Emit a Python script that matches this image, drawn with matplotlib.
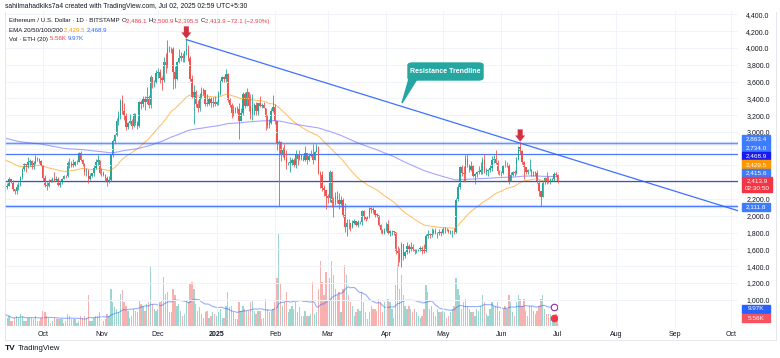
import numpy as np
import pandas as pd
import matplotlib
matplotlib.use("Agg")
import matplotlib.pyplot as plt
import matplotlib.dates as mdates
from matplotlib.patches import Rectangle, FancyBboxPatch, Polygon
from matplotlib.lines import Line2D

plt.rcParams['font.family'] = ['Liberation Sans', 'DejaVu Sans']

W, H = 780, 358

# ETH/USD daily, Bitstamp, from 2024-09-11 to 2025-07-01
first_day = '2024-09-11'
first_open = 2387

closes = [
    2341, 2361, 2437, 2418, 2316, 2296, 2343, 2369, 2463, 2561, 2612, 2582, 2647, 2653, 2578, 2632, 2695, 2677, 2658, 2603,
    2447, 2364, 2350, 2415, 2414, 2440, 2423, 2440, 2369, 2386, 2438, 2475, 2469, 2629, 2607, 2610, 2605, 2640, 2645, 2747,
    2666, 2621, 2525, 2535, 2440, 2480, 2507, 2569, 2638, 2661, 2515,
    2510, 2490, 2455, 2400, 2425, 2720, 2895, 2960, 3125, 3185, 3370, 3245, 3185, 3060, 3105, 3130, 3070, 3210, 3110, 3070,
    3355, 3330, 3395, 3360, 3415, 3325, 3655, 3580, 3590, 3705,
    3715, 3645, 3615, 3835, 3785, 4000, 3995, 4005, 3710, 3630, 3830, 3880, 3905, 3875, 3960, 3985, 3875, 3625, 3420, 3480,
    3330, 3280, 3420, 3490, 3495, 3335, 3330, 3395, 3350, 3355, 3335,
    3355, 3450, 3605, 3655, 3635, 3685, 3380, 3325, 3220, 3265, 3280, 3270, 3135, 3225, 3450, 3310, 3470, 3305, 3215, 3285,
    3325, 3245, 3340, 3310, 3320, 3285, 3180, 3080, 3110, 3250, 3300,
    3125, 2870, 2880, 2735, 2785, 2685, 2625, 2630, 2630, 2660, 2600, 2740, 2675, 2725, 2695, 2665, 2745, 2670, 2715, 2740,
    2665, 2765, 2820, 2515, 2490, 2335, 2310, 2240,
    2215, 2520, 2150, 2170, 2240, 2200, 2140, 2200, 2015, 1865, 1920, 1910, 1865, 1910, 1935, 1885, 1925, 1930, 2055, 1985,
    1965, 1985, 2085, 2080, 2065, 2010, 2005, 1895, 1830, 1800, 1825,
    1905, 1795, 1815, 1815, 1805, 1580, 1555, 1475, 1670, 1520, 1570, 1645, 1595, 1625, 1590, 1575, 1585, 1590, 1615, 1585,
    1580, 1755, 1795, 1770, 1785, 1820, 1795, 1800, 1800, 1795,
    1840, 1840, 1835, 1810, 1815, 1815, 1810, 2205, 2345, 2585, 2515, 2500, 2680, 2610, 2545, 2595, 2480, 2500, 2525, 2525,
    2550, 2665, 2525, 2530, 2550, 2565, 2660, 2680, 2630, 2530, 2530,
    2515, 2605, 2590, 2605, 2415, 2485, 2525, 2510, 2680, 2815, 2770, 2645, 2580, 2525, 2545, 2545, 2510, 2525, 2515, 2410,
    2295, 2230, 2410, 2445, 2420, 2415, 2425, 2435, 2500, 2486.1,
    2413.9,
]

highs = [
    2390, 2390, 2460, 2440, 2430, 2320, 2380, 2400, 2480, 2570, 2630, 2620, 2700, 2675, 2670, 2650, 2725, 2700, 2690, 2670,
    2610, 2485, 2405, 2440, 2440, 2460, 2520, 2470, 2465, 2420, 2455, 2485, 2490, 2650, 2690, 2650, 2680, 2650, 2660, 2760,
    2770, 2680, 2630, 2570, 2560, 2510, 2515, 2600, 2680, 2720, 2660,
    2570, 2530, 2500, 2480, 2480, 2740, 2910, 2980, 3160, 3250, 3390, 3440, 3340, 3230, 3120, 3210, 3150, 3230, 3220, 3130,
    3370, 3380, 3430, 3430, 3540, 3440, 3680, 3640, 3620, 3740,
    3760, 3750, 3670, 3890, 3940, 4090, 4020, 4010, 4010, 3780, 3840, 3990, 3950, 3935, 3970, 4108, 4040, 3910, 3680, 3560,
    3500, 3380, 3460, 3530, 3520, 3500, 3450, 3420, 3420, 3420, 3430,
    3370, 3490, 3620, 3670, 3670, 3745, 3700, 3410, 3350, 3320, 3300, 3310, 3340, 3280, 3470, 3480, 3520, 3460, 3450, 3450,
    3340, 3360, 3350, 3430, 3350, 3360, 3290, 3200, 3150, 3280, 3440,
    3330, 3130, 2900, 2890, 2825, 2860, 2790, 2640, 2700, 2690, 2690, 2790, 2730, 2780, 2740, 2720, 2830, 2750, 2750, 2780,
    2850, 2770, 2860, 2830, 2530, 2530, 2370, 2310,
    2260, 2550, 2530, 2220, 2280, 2300, 2270, 2240, 2210, 2150, 1960, 1960, 1920, 1950, 1960, 1940, 1950, 1940, 2070, 2070,
    1990, 2000, 2110, 2100, 2100, 2070, 2030, 2010, 1900, 1840, 1860,
    1925, 1950, 1830, 1830, 1820, 1810, 1640, 1620, 1690, 1670, 1580, 1690, 1660, 1690, 1660, 1610, 1610, 1600, 1640, 1640,
    1660, 1780, 1830, 1800, 1860, 1840, 1850, 1810, 1840, 1820,
    1870, 1870, 1850, 1840, 1830, 1830, 1860, 2210, 2380, 2590, 2600, 2590, 2730, 2740, 2620, 2650, 2600, 2510, 2540, 2590,
    2640, 2700, 2740, 2570, 2560, 2610, 2710, 2730, 2790, 2660, 2550,
    2540, 2610, 2660, 2640, 2620, 2520, 2530, 2550, 2700, 2830, 2880, 2790, 2650, 2580, 2560, 2680, 2560, 2540, 2540, 2550,
    2430, 2300, 2420, 2460, 2520, 2480, 2450, 2450, 2520, 2520,
    2500.9,
]

lows = [
    2280, 2320, 2350, 2390, 2300, 2260, 2260, 2310, 2360, 2440, 2530, 2520, 2570, 2590, 2560, 2560, 2620, 2650, 2630, 2590,
    2420, 2340, 2310, 2345, 2400, 2405, 2410, 2410, 2355, 2340, 2380, 2435, 2455, 2460, 2570, 2580, 2580, 2590, 2620, 2640,
    2650, 2590, 2490, 2470, 2390, 2430, 2460, 2470, 2560, 2610, 2500,
    2480, 2470, 2400, 2360, 2390, 2420, 2700, 2870, 2950, 3080, 3150, 3210, 3140, 3020, 3030, 3090, 3040, 3060, 3080, 3030,
    3060, 3270, 3300, 3260, 3330, 3280, 3290, 3520, 3540, 3580,
    3640, 3580, 3500, 3600, 3700, 3760, 3950, 3940, 3510, 3520, 3620, 3820, 3840, 3830, 3830, 3920, 3850, 3610, 3400, 3100,
    3300, 3240, 3250, 3400, 3440, 3310, 3310, 3320, 3300, 3300, 3310,
    3320, 3320, 3440, 3590, 3600, 3600, 3360, 3300, 3170, 3190, 3220, 3230, 2920, 3170, 3200, 3280, 3310, 3250, 3150, 3140,
    3200, 3200, 3200, 3300, 3280, 3280, 3020, 3050, 3050, 3100, 3240,
    3100, 2780, 2120, 2650, 2700, 2660, 2560, 2600, 2520, 2600, 2580, 2570, 2610, 2670, 2670, 2650, 2650, 2620, 2650, 2700,
    2620, 2660, 2770, 2500, 2330, 2290, 2240, 2080,
    2150, 2170, 2110, 1990, 2130, 2150, 2080, 2130, 1990, 1810, 1760, 1840, 1820, 1860, 1900, 1880, 1870, 1900, 1890, 1950,
    1940, 1960, 1970, 2030, 2030, 1990, 1990, 1880, 1790, 1780, 1780,
    1820, 1780, 1760, 1770, 1770, 1540, 1400, 1450, 1385, 1470, 1500, 1540, 1560, 1580, 1580, 1550, 1560, 1580, 1580, 1540,
    1560, 1570, 1740, 1730, 1750, 1780, 1780, 1740, 1770, 1760,
    1780, 1800, 1820, 1800, 1780, 1750, 1780, 1800, 2180, 2320, 2480, 2410, 2400, 2580, 2520, 2540, 2460, 2380, 2460, 2500,
    2500, 2500, 2510, 2490, 2480, 2520, 2540, 2630, 2620, 2500, 2490,
    2480, 2500, 2580, 2580, 2380, 2410, 2470, 2480, 2500, 2660, 2740, 2620, 2440, 2500, 2500, 2530, 2480, 2480, 2480, 2390,
    2240, 2111.8, 2220, 2380, 2380, 2390, 2380, 2410, 2420, 2460,
    2395.5,
]

# volume in thousands of ETH
volumes = [
    7, 5, 6, 3, 3, 5, 6, 5, 7, 6, 3, 3, 5, 5, 5, 4, 6, 3, 3, 5,
    9, 8, 6, 5, 2, 3, 5, 4, 4, 4, 4, 2, 3, 7, 6, 4, 4, 4, 2, 3, 6, 5, 6, 5, 18, 3, 3, 5, 6, 6, 8,
    6, 3, 4, 7, 6, 22, 14, 11, 10, 8, 19, 21, 14, 12, 9, 5, 6, 10, 9, 8, 15, 13, 12, 9, 13, 14, 35, 13, 10, 9,
    10, 14, 15, 29, 19, 20, 8, 8, 22, 18, 12, 13, 9, 6, 7, 15, 14, 25, 26, 22, 13, 9, 11, 7, 5, 8, 9, 5, 6, 8, 7,
    6, 8, 10, 5, 5, 12, 20, 11, 12, 8, 4, 4, 14, 9, 12, 10, 9, 9, 14, 15, 9, 7, 9, 9, 4, 5, 16, 10, 8, 9, 10,
    14, 28, 55, 25, 12, 14, 20, 8, 10, 12, 10, 14, 8, 11, 6, 6, 9, 6, 6, 7, 26, 7, 8, 22, 38, 26, 18, 32,
    14, 28, 38, 30, 22, 18, 20, 8, 22, 36, 30, 18, 14, 12, 6, 8, 10, 9, 20, 14, 8, 4, 8, 12, 10, 10, 9, 16, 14, 8, 14,
    12, 16, 14, 10, 5, 24, 36, 22, 30, 18, 12, 10, 12, 10, 8, 10, 8, 6, 5, 6, 10, 24, 20, 10, 12, 8, 6, 10, 8, 8,
    9, 8, 5, 6, 8, 10, 12, 28, 22, 18, 10, 14, 16, 12, 10, 8, 8, 6, 10, 9, 12, 18, 14, 7, 6, 10, 14, 12, 12, 14, 9,
    6, 10, 12, 10, 18, 14, 8, 6, 14, 18, 16, 12, 16, 9, 6, 12, 12, 9, 7, 9, 12, 16, 18, 10, 7, 7, 7, 5, 6, 7,
    5.56,
]

# EMA values at the left edge of the chart
EMA50_START = 2680
EMA200_START = 2930

levels = [2863.4, 2734.0, 2415.6, 2111.8]
trend_dates = ['2024-12-16', '2025-06-11']
trend_prices = [4100, 2866]
arrow_dates = ['2024-12-16', '2025-06-11']

price_ticks = list(range(1000, 4600, 200))
hidden_ticks = [2400, 2600, 2800]  # covered by the price-scale labels
month_ticks = ['2024-10-01', '2024-11-01', '2024-12-01', '2025-01-01', '2025-02-01', '2025-03-01',
               '2025-04-01', '2025-05-01', '2025-06-01', '2025-07-01', '2025-08-01', '2025-09-01', '2025-10-01']
month_labels = ['Oct', 'Nov', 'Dec', '2025', 'Feb', 'Mar', 'Apr', 'May', 'Jun', 'Jul', 'Aug', 'Sep', 'Oct']

UP = '#26a69a'
DOWN = '#ef5350'
TXT = '#131722'


def ema(vals, n, start):
    k = 2 / (n + 1)
    e = start
    out = []
    for v in vals:
        e = e + k * (v - e)
        out.append(e)
    return np.array(out)


dates = pd.date_range(first_day, periods=len(closes), freq='D')
x = mdates.date2num(dates)
c = np.array(closes, float)
o = np.r_[first_open, c[:-1]]
hi = np.maximum(np.array(highs, float), np.maximum(o, c))
lo = np.minimum(np.array(lows, float), np.minimum(o, c))
up = c >= o
col = np.where(up, UP, DOWN)
vol = np.array(volumes, float)
vol_ma = pd.Series(vol).rolling(20, min_periods=1).mean().values

fig = plt.figure(figsize=(W / 100, H / 100), dpi=100)
ax_top, ax_bot = 11, 328
ax = fig.add_axes([5 / W, 1 - ax_bot / H, 733 / W, (ax_bot - ax_top) / H])

oct1 = mdates.date2num(pd.Timestamp('2024-10-01'))
px_day = 1.886
ax.set_xlim(oct1 - 38 / px_day, oct1 + 695 / px_day)
ax.set_ylim(663, 4441)

# volume overlay
vax = ax.twinx()
vax.set_ylim(-2 / 1.7, (ax_bot - ax_top) / 1.7 - 2 / 1.7)
vax.bar(x, vol, width=0.7, color=np.where(up, UP, DOWN), alpha=0.45, linewidth=0)
vax.plot(x, vol_ma, color='#2962ff', lw=0.8, alpha=0.5)
vax.set_yticks([])
for s in vax.spines.values():
    s.set_visible(False)
ax.set_zorder(vax.get_zorder() + 1)
ax.patch.set_visible(False)

# grid and scales
ax.set_yticks(price_ticks)
ax.set_yticklabels(['' if p in hidden_ticks else f'{p:,.1f}' for p in price_ticks])
ax.set_xticks(mdates.date2num(pd.to_datetime(month_ticks)))
ax.set_xticklabels(month_labels)
ax.grid(color='#f0f3fa', lw=0.7)
ax.yaxis.tick_right()
ax.tick_params(axis='y', length=0, pad=6, labelsize=5, labelcolor=TXT)
ax.tick_params(axis='x', length=0, pad=2.5, labelsize=5, labelcolor=TXT)
ax.get_xticklabels()[3].set_fontweight('bold')
for s in ax.spines.values():
    s.set_visible(False)

# EMAs
ax.plot(x, ema(c, 50, EMA50_START), color='#ffa726', lw=0.7, alpha=0.75)
ax.plot(x, ema(c, 200, EMA200_START), color='#6b6bff', lw=0.8, alpha=0.6)

# horizontal levels
band = dict(color='#2962ff', lw=2.4, alpha=0.25)
ax.axhline(levels[0], **band)
ax.axhline(levels[0], color='#2962ff', lw=0.6, alpha=0.7)
ax.axhline(levels[1], color='#2962ff', lw=0.9, alpha=0.85)
ax.axhline(levels[2], color='#3d4fc4', lw=0.9)
ax.axhline(levels[3], **band)
ax.axhline(levels[3], color='#2962ff', lw=0.7, alpha=0.8)

# candles
ax.vlines(x, lo, hi, colors=col, lw=0.6)
body = np.where(np.abs(c - o) < 6, 6, c - o)
ax.bar(x, body, bottom=o, width=0.75, color=col, linewidth=0)

# resistance trendline
tx = mdates.date2num(pd.to_datetime(trend_dates))
slope = (trend_prices[1] - trend_prices[0]) / (tx[1] - tx[0])
x_end = ax.get_xlim()[1]
ax.plot([tx[0], x_end], [trend_prices[0], trend_prices[0] + slope * (x_end - tx[0])],
        color='#2962ff', lw=0.9, alpha=0.9)

# red arrows over the swing highs
for d in arrow_dates:
    xd = mdates.date2num(pd.Timestamp(d))
    top = hi[x == xd][0]
    ax.annotate('', xy=(xd, top + 5), xytext=(xd, top + 150),
                arrowprops=dict(arrowstyle='simple,head_length=0.55,head_width=0.9,tail_width=0.45',
                                color='#d32f3f', lw=0, shrinkA=0, shrinkB=0, mutation_scale=8))


def fx(px):
    return px / W


def fy(py):
    return 1 - py / H


# callout
fig.add_artist(Polygon([(fx(409), fy(79)), (fx(417), fy(79)), (fx(402), fy(103))],
                       closed=True, transform=fig.transFigure, color='#26a6a0', zorder=6))
fig.add_artist(FancyBboxPatch((fx(408), fy(80)), fx(75), 17 / H,
                              boxstyle='round,pad=0,rounding_size=0.006', transform=fig.transFigure,
                              color='#26a6a0', zorder=6))
fig.text(fx(445.5), fy(71.5), 'Resistance Trendline', color='white', fontsize=5, fontweight='bold',
         ha='center', va='center', zorder=7)


# price scale labels
def scale_box(yc, h, color, lines, x0=742, x1=770):
    fig.add_artist(Rectangle((fx(x0), fy(yc + h / 2)), fx(x1 - x0), h / H,
                             transform=fig.transFigure, color=color, zorder=8))
    n = len(lines)
    for i, s in enumerate(lines):
        yy = yc + (i - (n - 1) / 2) * (h / n)
        fig.text(fx((x0 + x1) / 2), fy(yy), s, color='white', fontsize=4.6,
                 ha='center', va='center', zorder=9)


scale_box(139, 8.5, '#3d7bff', ['2,863.4'])
scale_box(147.5, 8.5, '#3d7bff', ['2,734.0'])
scale_box(156, 8.5, '#1a1af0', ['2,468.9'])
scale_box(164.5, 8.5, '#ff9800', ['2,429.5'])
scale_box(173, 8.5, '#3d7bff', ['2,415.6'])
scale_box(184.5, 15, '#f23645', ['2,413.9', '02:30:50'], x1=772)
scale_box(207, 8.5, '#3d7bff', ['2,111.8'])
scale_box(309, 8.5, '#2962ff', ['9.97K'])
scale_box(318, 8.5, '#f7525f', ['5.56K'])

# small icons at the end of the volume pane
vax.scatter([x[-1] - 2], [11], s=22, facecolor='white', edgecolor='#9c27b0', lw=0.8, zorder=5)
vax.scatter([x[-1] - 2], [4.6], s=22, facecolor='#f23645', edgecolor='#f23645', lw=0.8, zorder=5)

# frame
fig.add_artist(Line2D([fx(5), fx(5)], [fy(12), fy(340)], color='#e0e3eb', lw=0.6))
fig.add_artist(Line2D([fx(5), fx(776)], [fy(340), fy(340)], color='#e0e3eb', lw=0.6))
fig.add_artist(Line2D([fx(776), fx(776)], [fy(12), fy(340)], color='#e0e3eb', lw=0.6))

# header legend
renderer = fig.canvas.get_renderer()


def rich(px, py, parts, size=5):
    for s, color in parts:
        t = fig.text(fx(px), fy(py), s, color=color, fontsize=size, va='center', ha='left')
        px += t.get_window_extent(renderer).width


RED = '#f23645'
rich(5, 6, [('sahilmahadkiks7a4 created with TradingView.com, Jul 02, 2025 02:59 UTC+5:30', TXT)], size=4.85)
rich(9, 21, [('Ethereum / U.S. Dollar · 1D · BITSTAMP ', TXT), ('O', TXT), ('2,486.1 ', RED),
             ('H', TXT), ('2,500.9 ', RED), ('L', TXT), ('2,395.5 ', RED), ('C', TXT),
             ('2,413.9 ', RED), ('\u221272.1 (\u22122.90%)', RED)], size=4.4)
rich(9, 30, [('EMA 20/50/100/200 ', TXT), ('2,429.5 ', '#ff9800'), ('2,468.9', '#2962ff')], size=4.4)
rich(9, 39, [('Vol · ETH (20) ', TXT), ('5.56K ', RED), ('9.97K', '#2962ff')], size=4.4)

# footer
fig.text(fx(5), fy(348), 'TV', color=TXT, fontsize=6, fontweight='bold', va='center')
fig.text(fx(18), fy(348), 'TradingView', color=TXT, fontsize=5.5, va='center')

fig.savefig('out.png', dpi=100)
